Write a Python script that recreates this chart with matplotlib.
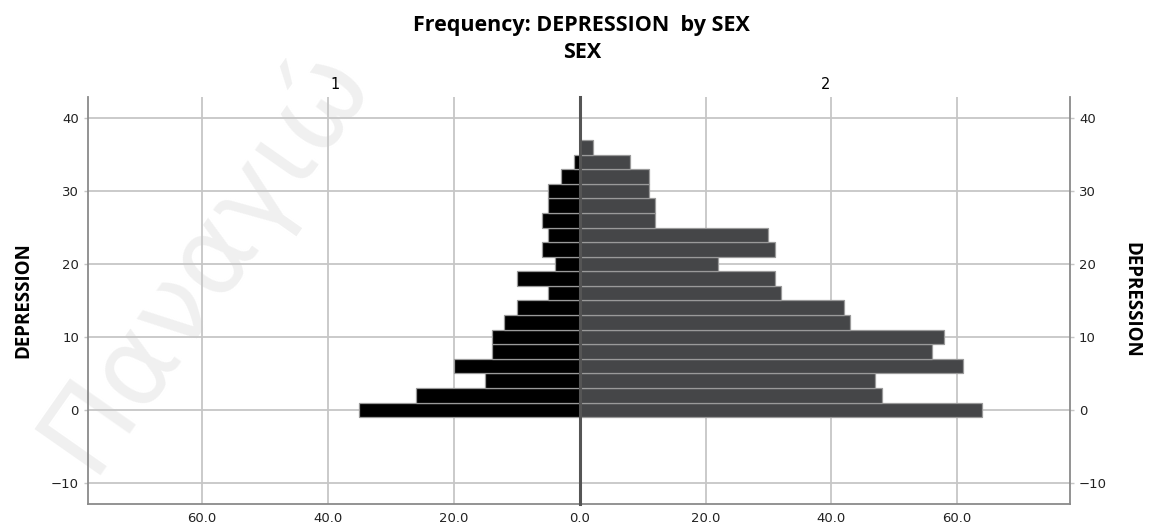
import numpy as np
import matplotlib
matplotlib.use("Agg")
import matplotlib.pyplot as plt


# ==========================================================
# DATOS
# ==========================================================

depresion = [0, 2, 4, 6, 8, 10, 12, 14, 16, 18,
             20, 22, 24, 26, 28, 30, 32, 34, 36]

frec_sexo_1 = [35, 26, 15, 20, 14, 14, 12, 10, 5, 10,
               4, 6, 5, 6, 5, 5, 3, 1, 0]

frec_sexo_2 = [64, 48, 47, 61, 56, 58, 43, 42, 32, 31,
               22, 31, 30, 12, 12, 11, 11, 8, 2]

y_ticks = [-10, 0, 10, 20, 30, 40]
x_ticks_izq = [0, 20, 40, 60]
x_labels_izq = ["0.0", "20.0", "40.0", "60.0"]
x_ticks_der = [20, 40, 60]
x_labels_der = ["20.0", "40.0", "60.0"]


# ==========================================================
# FIGURA
# ==========================================================

fig = plt.figure(figsize=(11.52, 5.24), dpi=100)

# marca de agua (muy tenue)
fig.text(0.177, 0.51, "Παναγιώ", fontsize=80, color="#f0f0f0",
         rotation=55, ha="center", va="center", zorder=-1,
         family="DejaVu Sans")

ax1 = fig.add_axes([0.0764, 0.0382, 0.4271, 0.7767])
ax2 = fig.add_axes([0.5035, 0.0382, 0.4253, 0.7767])

color_grid = "#c6c6c6"
color_spine = "#8a8a8a"

for ax in (ax1, ax2):

    ax.set_facecolor("none")
    ax.set_xlim(0, 78)
    ax.set_ylim(-12.9, 42.9)
    ax.set_yticks(y_ticks)
    ax.grid(True, color=color_grid, linewidth=1.3)
    ax.set_axisbelow(True)
    ax.spines["top"].set_visible(False)
    ax.spines["bottom"].set_color(color_spine)
    ax.spines["bottom"].set_linewidth(1.3)
    ax.tick_params(axis="both", labelsize=9.5, colors="#222222",
                   length=3, width=1.0)
    ax.tick_params(axis="x", length=0, pad=6)
    ax.tick_params(axis="y", color=color_grid)

ax1.set_xticks(x_ticks_izq)
ax1.set_xticklabels(x_labels_izq)
ax2.set_xticks(x_ticks_der)
ax2.set_xticklabels(x_labels_der)

ax1.invert_xaxis()
ax1.spines["right"].set_visible(False)
ax1.spines["left"].set_color(color_spine)
ax1.spines["left"].set_linewidth(1.3)

ax2.spines["left"].set_visible(False)
ax2.spines["right"].set_color(color_spine)
ax2.spines["right"].set_linewidth(1.3)
ax2.yaxis.tick_right()

# barras
ax1.barh(depresion, frec_sexo_1, height=2.0, color="black",
         edgecolor="#9a9a9a", linewidth=0.9, zorder=3)

ax2.barh(depresion, frec_sexo_2, height=2.0, color="#454648",
         edgecolor="#9a9a9a", linewidth=0.9, zorder=3)

# linea central
ax2.axvline(0, color="#555555", linewidth=2.2, zorder=5,
            clip_on=False)


# ==========================================================
# TEXTOS
# ==========================================================

fig.text(0.505, 0.952, "Frequency: DEPRESSION  by SEX",
         ha="center", va="center", fontsize=15.5, fontweight="bold",
         family="Open Sans")

fig.text(0.505, 0.899, "SEX", ha="center", va="center",
         fontsize=15.5, fontweight="bold", family="Open Sans")

fig.text(0.291, 0.838, "1", ha="center", va="center",
         fontsize=10.5, family="DejaVu Sans")

fig.text(0.717, 0.838, "2", ha="center", va="center",
         fontsize=10.5, family="DejaVu Sans")

fig.text(0.020, 0.427, "DEPRESSION", rotation=90,
         ha="center", va="center", fontsize=13.5, fontweight="bold",
         family="Open Sans")

fig.text(0.982, 0.427, "DEPRESSION", rotation=270,
         ha="center", va="center", fontsize=13.5, fontweight="bold",
         family="Open Sans")

plt.savefig("out.png", dpi=100)
